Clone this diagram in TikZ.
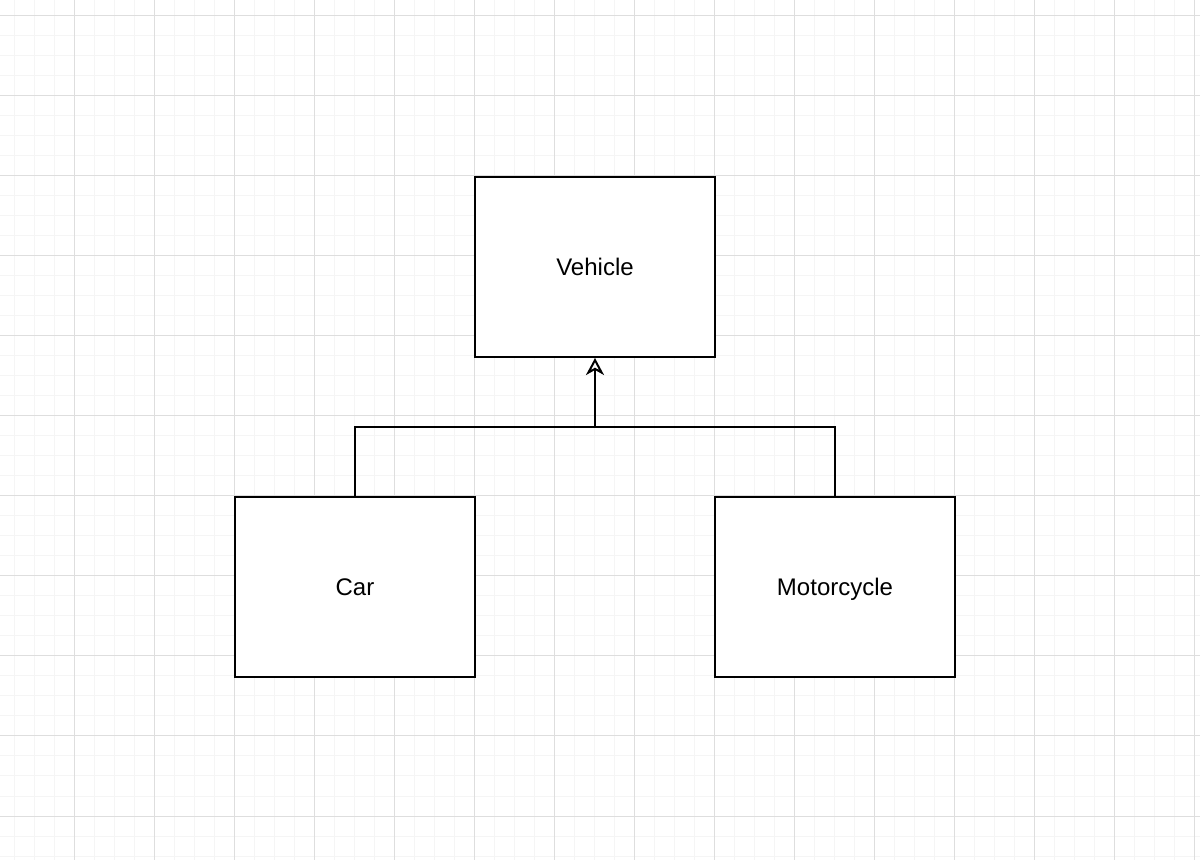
\documentclass[tikz,border=0pt]{standalone}
\usepackage{fontspec}
\setmainfont{Liberation Sans}
\usetikzlibrary{arrows.meta}
\definecolor{minorgrid}{HTML}{F5F5F5}
\definecolor{majorgrid}{HTML}{DEDEDE}
\begin{document}
\begin{tikzpicture}[x=0.5pt,y=-0.5pt,
  box/.style={draw=black, line width=1pt, fill=white, minimum width=120pt, minimum height=90pt, inner sep=0pt, text height=8.6pt, text depth=0pt, font=\fontsize{12pt}{14pt}\selectfont},
  conn/.style={draw=black, line width=1pt}]
\useasboundingbox (0,0) rectangle (1200,860);
\fill[white] (0,0) rectangle (1200,860);
% minor grid
\foreach \x in {14.5,34.5,...,1200} \draw[minorgrid, line width=0.5pt] (\x,0) -- (\x,860);
\foreach \y in {16,36,...,860} \draw[minorgrid, line width=0.5pt] (0,\y) -- (1200,\y);
% major grid
\foreach \x in {74.5,154.5,...,1200} \draw[majorgrid, line width=0.5pt] (\x,0) -- (\x,860);
\foreach \y in {16,96,...,860} \draw[majorgrid, line width=0.5pt] (0,\y) -- (1200,\y);
% nodes
\node[box] (veh) at (595,267) {Vehicle};
\node[box] (car) at (355,587) {Car};
\node[box] (moto) at (835,587) {Motorcycle};
\coordinate (j) at (595,427);
\draw[conn] (car.north) |- (j);
\draw[conn] (moto.north) |- (j);
\draw[conn, -{Stealth[open, length=8.5pt, width=9pt, inset=2.5pt]}] (j) -- (veh.south);
\end{tikzpicture}
\end{document}
